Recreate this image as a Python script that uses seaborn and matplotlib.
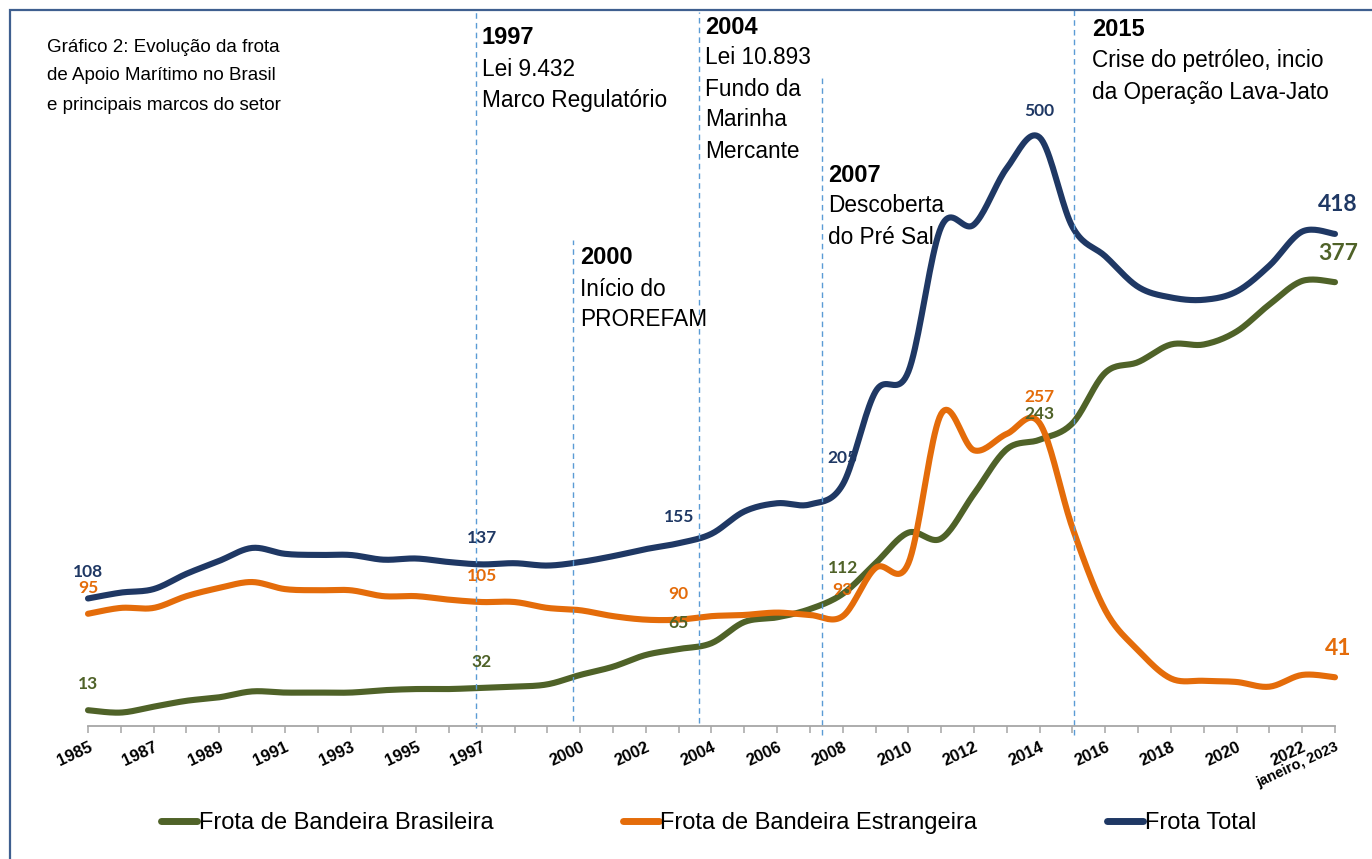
import numpy as np
import pandas as pd
import matplotlib
matplotlib.use("Agg")
import matplotlib.pyplot as plt
import seaborn as sns
from matplotlib.lines import Line2D
from matplotlib.patches import Rectangle

sns.set_style("white")
plt.rcParams['font.family'] = ['Liberation Sans', 'DejaVu Sans']
plt.rcParams['text.color'] = 'black'
plt.rcParams['xtick.labelcolor'] = 'black'

# dados (numero de embarcações por ano)
anos = list(range(1985, 2024))
frota_total = [108, 113, 116, 129, 140, 151, 146, 145, 145, 141, 142, 139, 137, 138, 136,
               139, 144, 150, 155, 163, 182, 189, 188, 205, 284, 301, 424, 426, 474, 500,
               424, 399, 373, 364, 362, 369, 391, 420, 418]
frota_estrangeira = [95, 100, 100, 110, 117, 122, 116, 115, 115, 110, 110, 107, 105, 105, 100,
                     98, 93, 90, 90, 93, 94, 96, 94, 93, 134, 138, 265, 234, 248, 257,
                     168, 98, 64, 40, 38, 37, 33, 43, 41]
frota_brasileira = [13, 11, 16, 21, 24, 29, 28, 28, 28, 30, 31, 31, 32, 33, 35,
                    43, 50, 60, 65, 70, 88, 92, 99, 112, 138, 164, 159, 197, 235, 243,
                    257, 300, 309, 324, 324, 335, 358, 378, 377]

nomes = ["Frota de Bandeira Brasileira", "Frota de Bandeira Estrangeira", "Frota Total"]
cores = ["#4F6228", "#E46C0A", "#1F3864"]

anos_rotulo = [1985, 1997, 2003, 2008, 2014, 2023]
anos_tick = [1985, 1987, 1989, 1991, 1993, 1995, 1997, 2000, 2002, 2004, 2006, 2008,
             2010, 2012, 2014, 2016, 2018, 2020, 2022]

marcos = ["1997", "2000", "2004", "2007", "2015"]
marcos_texto = [["Lei 9.432", "Marco Regulatório"],
                ["Início do", "PROREFAM"],
                ["Lei 10.893", "Fundo da", "Marinha", "Mercante"],
                ["Descoberta", "do Pré Sal"],
                ["Crise do petróleo, incio", "da Operação Lava-Jato"]]


def smooth(x, y, n=20):
    # curva suavizada estilo excel (catmull-rom)
    x = np.asarray(x, float); y = np.asarray(y, float)
    px = np.concatenate([[x[0]], x, [x[-1]]])
    py = np.concatenate([[y[0]], y, [y[-1]]])
    xs, ys = [], []
    t = np.linspace(0, 1, n, endpoint=False)
    for i in range(1, len(px) - 2):
        for p, out in ((px, xs), (py, ys)):
            p0, p1, p2, p3 = p[i - 1], p[i], p[i + 1], p[i + 2]
            out.extend(0.5 * (2 * p1 + (-p0 + p2) * t + (2 * p0 - 5 * p1 + 4 * p2 - p3) * t ** 2
                              + (-p0 + 3 * p1 - 3 * p2 + p3) * t ** 3))
    xs.append(x[-1]); ys.append(y[-1])
    return np.array(xs), np.array(ys)


W, H = 1372, 859
fig = plt.figure(figsize=(W / 100, H / 100), dpi=100)
y0_px, px_un = 725.5, 1.176
ax = fig.add_axes([88 / W, (H - y0_px) / H, (1335 - 88) / W, 600 * px_un / H])

series = [frota_brasileira, frota_estrangeira, frota_total]
for nome, cor, vals in zip(nomes, cores, series):
    xs, ys = smooth(anos, vals)
    df = pd.DataFrame({"ano": xs, "frota": ys})
    sns.lineplot(data=df, x="ano", y="frota", color=cor, lw=4.4, ax=ax,
                 sort=False, estimator=None, clip_on=False, solid_capstyle="round")

# rotulos de dados
for cor, vals in zip(cores, series):
    for a in anos_rotulo:
        v = vals[anos.index(a)]
        grande = a == 2023
        ax.annotate(str(v), (a, v), xytext=(3 if grande else 0, 29 if grande else 26),
                    textcoords="offset pixels", ha="center", va="center",
                    color=cor, fontsize=16.5 if grande else 12.5, fontweight="bold",
                    family=["Lato", "DejaVu Sans"], annotation_clip=False)

# linhas dos marcos
linhas_x = [1996.83, 1999.79, 2003.63, 2007.38, 2015.06]
linhas_y = [(-2, 608), (4, 413), (2, 607), (-8, 553), (-8, 608)]
for lx, (yb, yt) in zip(linhas_x, linhas_y):
    ax.plot([lx, lx], [yb, yt], ls=(0, (4, 3)), color="#5B9BD5", lw=1.0, clip_on=False)

ax.set_xlim(1985, 2023)
ax.set_ylim(0, 600)
ax.set_yticks([])
ax.set_xlabel(""); ax.set_ylabel("")
for s in ["top", "right", "left"]:
    ax.spines[s].set_visible(False)
ax.spines["bottom"].set_color("#A6A6A6")
ax.spines["bottom"].set_linewidth(1.3)
ax.set_xticks(anos)
rot = [str(a) if a in anos_tick else "" for a in anos]
rot[-1] = "janeiro, 2023"
ax.set_xticklabels(rot, rotation=25, ha="right", rotation_mode="anchor",
                   family=["Liberation Sans Narrow", "Liberation Sans"], fontweight="bold",
                   fontsize=12)
ax.tick_params(axis="x", direction="out", length=5, width=1.1, color="#A6A6A6", pad=5,
               bottom=True)
ax.get_xticklabels()[-1].set_fontsize(10.5)

# textos dos marcos (posicoes em pixels)
pos_marcos = [(482, 38), (580, 258), (705, 27), (828, 175), (1092, 30)]
for ano_m, linhas, (tx, ty) in zip(marcos, marcos_texto, pos_marcos):
    fig.text(tx / W, 1 - ty / H, ano_m, fontsize=17, fontweight="bold", va="center",
             ha="left")
    for k, l in enumerate(linhas):
        fig.text(tx / W, 1 - (ty + 31 * (k + 1)) / H, l, fontsize=16.3, va="center",
                 ha="left")

# titulo
titulo = ["Gráfico 2: Evolução da frota", "de Apoio Marítimo no Brasil",
          "e principais marcos do setor"]
for k, l in enumerate(titulo):
    fig.text(47 / W, 1 - (47 + 29 * k) / H, l, fontsize=13.5, va="center", ha="left",
             family=["Liberation Sans Narrow", "Liberation Sans"])

# moldura
fig.patches.append(Rectangle((10 / W, -0.1), 1.2, 1.1 - 10 / H, transform=fig.transFigure,
                             fill=False, edgecolor="#3F5F8F", lw=1.6))

# legenda
handles = [Line2D([0], [0], color=c, lw=5, solid_capstyle="round") for c in cores]
fig.legend(handles, nomes, loc="center", bbox_to_anchor=(0.5165, 1 - 823 / H), ncol=3,
           frameon=False, fontsize=17, handlelength=1.5, handletextpad=0.08,
           columnspacing=5.5)

fig.savefig("out.png", dpi=100)
